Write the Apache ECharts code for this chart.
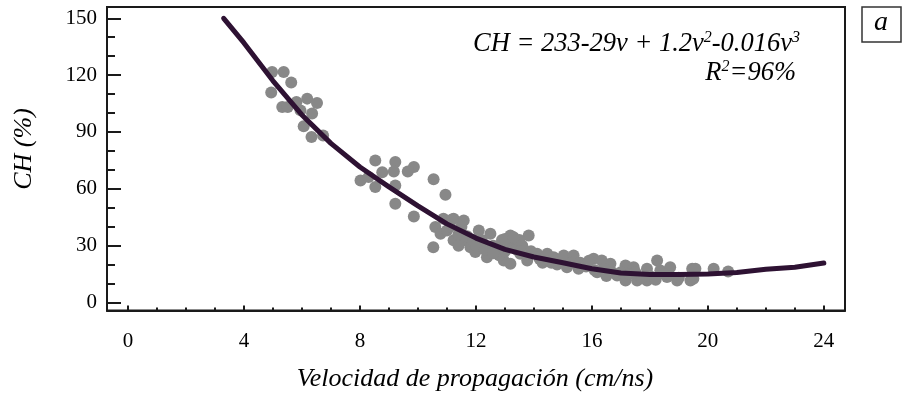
<!DOCTYPE html>
<html>
<head>
<meta charset="utf-8">
<script src="https://cdn.jsdelivr.net/npm/echarts@6/dist/echarts.min.js"></script>
<style>
html,body{margin:0;padding:0;background:#fff;}
#chart{width:903px;height:393px;}
</style>
</head>
<body>
<div id="chart"></div>
<script>
// ---- data ----
const xTickLabels = [0, 4, 8, 12, 16, 20, 24];
const xMinorTicks = [0,1,2,3,4,5,6,7,8,9,10,11,12,13,14,15,16,17,18,19,20,21,22,23,24];
const yTickLabels = [0, 30, 60, 90, 120, 150];
const yMinorTicks = [0,10,20,30,40,50,60,70,80,90,100,110,120,130,140,150];

// observed points [velocity, CH]
const obsVelocity = [
  4.97,5.37,5.63,4.94,5.32,5.51,5.81,6.18,6.52,5.95,6.35,6.06,6.33,6.73,
  8.53,9.22,9.86,9.65,8.77,9.17,8.02,8.30,8.53,9.22,10.54,10.95,9.22,9.86,
  10.53,10.6,10.88,11.23,11.58,10.78,11.23,11.58,11.81,12.1,12.5,12.21,11.98,12.38,12.73,13.19,13.82,13.3,12.96,13.53,13.77,14.11,14.46,14.68,15.03,15.14,13.19,11.0,11.18,
  11.4,11.7,11.9,12.0,12.3,12.6,12.8,13.0,13.1,13.4,13.6,13.9,14.2,14.3,14.6,14.8,12.2,12.9,13.5,11.1,11.5,13.0,13.3,12.6,11.4,
  15.03,15.37,15.14,15.54,16.06,16.34,16.64,16.18,16.87,17.16,17.44,17.16,17.56,17.9,18.25,18.36,18.59,17.9,18.94,19.4,19.46,19.57,20.2,18.7,20.7,19.5,
  15.3,15.6,15.8,16.1,16.4,16.7,17.0,17.3,17.7,18.0,18.2,18.5,19.0,16.5,17.5,15.9
];
const obsCH = [
  121.7,121.7,116.1,110.8,103.2,103.2,105.8,107.6,105.3,101.4,99.7,93.0,87.3,88.2,
  75.0,74.1,71.5,69.2,68.8,69.2,64.4,66.2,60.9,61.8,65.0,56.9,52.1,45.4,
  29.2,39.8,44.2,44.2,43.3,36.3,32.8,32.8,29.2,38.0,36.3,31.0,26.6,23.9,27.5,35.4,35.4,31.0,22.2,25.7,22.2,25.7,25.7,23.9,23.9,19.5,20.4,38.0,43.8,
  36,35,33,30,28,30,25,27,29,28,30,27,23,21,21,20,33,33,33,40,40,33.5,34.5,26,30,
  24.8,24.8,18.6,17.8,23.1,22.2,20.4,16.0,14.3,19.5,18.6,11.6,11.6,17.8,22.2,16.9,13.4,11.6,11.6,11.6,17.8,17.8,17.8,18.6,16.4,12.5,
  21,21,19,17,18,16,16,15,13,14,12,15,13,14,16,22
];

// fitted curve as drawn [velocity, CH]
const fitVelocity = [3.3,4,5,6,7,8,9,10,11,12,13,14,15,16,17,18,19,20,21,22,23,24];
const fitCH = [150,137,117,99,84,71.5,61,51,41.5,34,28,24,21,17.8,15.6,14.8,14.8,15,15.8,17.5,18.6,20.8];

const equationText = 'CH = 233-29v + 1.2v{s|2}-0.016v{s|3}';
const r2Text = 'R{s|2}=96%';
const xTitle = 'Velocidad de propagación (cm/ns)';
const yTitle = 'CH (%)';
const panelLetter = 'a';

// ---- chart ----
const FONT = '"Liberation Serif", "Times New Roman", serif';
const AX = '#1a1a1a';
const chart = echarts.init(document.getElementById('chart'), null, {renderer: 'canvas'});

const scatterData = obsVelocity.map((v, i) => [v, obsCH[i]]);
const fitData = fitVelocity.map((v, i) => [v, fitCH[i]]);

const supStyle = {fontSize: 16, fontStyle: 'italic', fontFamily: FONT, color: '#000', verticalAlign: 'top', padding: [0, 0, 12, 0]};

const option = {
  backgroundColor: '#fff',
  animation: false,
  grid: {left: 107, right: 58, top: 7, bottom: 82.5, show: true, borderColor: AX, borderWidth: 2, backgroundColor: 'transparent'},
  xAxis: [
    {
      type: 'value', min: -0.724, max: 24.73,
      axisLine: {show: true, onZero: false, lineStyle: {color: AX, width: 2}},
      axisTick: {show: true, inside: true, length: 5, lineStyle: {color: AX, width: 2}, customValues: xTickLabels},
      axisLabel: {show: true, margin: 20, color: '#000', fontSize: 21, fontFamily: FONT, customValues: xTickLabels},
      splitLine: {show: false}
    },
    {
      type: 'value', min: -0.724, max: 24.73, position: 'bottom', offset: 0,
      axisLine: {show: false, onZero: false},
      axisTick: {show: true, inside: true, length: 3, lineStyle: {color: AX, width: 2}, customValues: xMinorTicks},
      axisLabel: {show: false},
      splitLine: {show: false}
    }
  ],
  yAxis: [
    {
      type: 'value', min: -4.22, max: 155.96,
      axisLine: {show: true, onZero: false, lineStyle: {color: AX, width: 2}},
      axisTick: {show: true, inside: true, length: 14, lineStyle: {color: AX, width: 2}, customValues: yTickLabels},
      axisLabel: {show: true, margin: 10, color: '#000', fontSize: 21, fontFamily: FONT, customValues: yTickLabels},
      splitLine: {show: false}
    },
    {
      type: 'value', min: -4.22, max: 155.96, position: 'left', offset: 0,
      axisLine: {show: false, onZero: false},
      axisTick: {show: true, inside: true, length: 8, lineStyle: {color: AX, width: 2}, customValues: yMinorTicks},
      axisLabel: {show: false},
      splitLine: {show: false}
    }
  ],
  series: [
    {
      type: 'scatter', xAxisIndex: 0, yAxisIndex: 0,
      data: scatterData, symbol: 'circle', symbolSize: 12,
      itemStyle: {color: '#888888', opacity: 1},
      z: 2
    },
    {
      type: 'line', xAxisIndex: 0, yAxisIndex: 0,
      data: fitData, showSymbol: false, symbol: 'none', smooth: false,
      lineStyle: {color: '#2e1233', width: 5, cap: 'round', join: 'round'},
      z: 3
    }
  ],
  graphic: [
    {
      type: 'text', x: 24, y: 149, rotation: Math.PI / 2,
      style: {text: yTitle, fontSize: 26, fontStyle: 'italic', fontFamily: FONT, fill: '#000', align: 'center', verticalAlign: 'middle'}
    },
    {
      type: 'text', x: 475, y: 379,
      style: {text: xTitle, fontSize: 26, fontStyle: 'italic', fontFamily: FONT, fill: '#000', align: 'center', verticalAlign: 'middle'}
    },
    {
      type: 'text', x: 800, y: 44,
      style: {text: equationText, fontSize: 26.5, fontStyle: 'italic', fontFamily: FONT, fill: '#000', align: 'right', verticalAlign: 'middle', rich: {s: supStyle}}
    },
    {
      type: 'text', x: 796, y: 73,
      style: {text: r2Text, fontSize: 26.5, fontStyle: 'italic', fontFamily: FONT, fill: '#000', align: 'right', verticalAlign: 'middle', rich: {s: supStyle}}
    },
    {
      type: 'rect', shape: {x: 862, y: 7, width: 39, height: 35},
      style: {fill: '#fff', stroke: '#333', lineWidth: 1.5}
    },
    {
      type: 'text', x: 881, y: 23,
      style: {text: panelLetter, fontSize: 28, fontStyle: 'italic', fontFamily: FONT, fill: '#000', align: 'center', verticalAlign: 'middle'}
    }
  ]
};
chart.setOption(option);
</script>
</body>
</html>
